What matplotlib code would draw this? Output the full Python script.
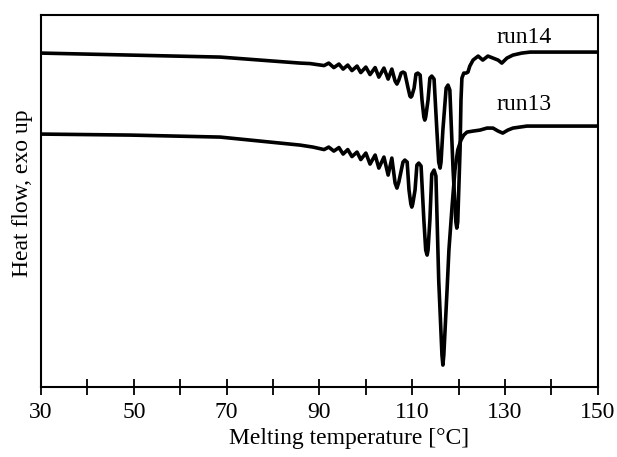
import matplotlib
matplotlib.use("Agg")
import matplotlib.pyplot as plt

# -------------------------------------------------------------
# Data (temperature in degC, heat flow in arbitrary units)
# -------------------------------------------------------------
temp_run14 = [30.0, 49.2, 68.6, 77.2, 85.8, 88.0, 91.0, 92.0, 93.1, 94.2, 95.1,
              96.1, 97.0, 98.1, 98.9, 100.0, 100.9, 102.0, 102.8, 103.9, 104.8,
              105.6, 106.3, 106.7, 107.1, 107.6, 108.0, 108.4, 109.1, 109.5,
              109.7, 109.9, 110.4, 110.8, 111.2, 111.7, 112.1, 112.5, 112.7,
              112.9, 113.4, 113.8, 114.2, 114.7, 115.3, 115.7, 116.0, 116.2,
              116.6, 117.3, 117.7, 118.1, 118.8, 119.4, 119.6, 119.8, 120.3,
              120.5, 120.7, 121.1, 121.6, 122.0, 122.4, 123.1, 124.2, 125.2,
              126.3, 127.4, 128.5, 129.3, 130.4, 131.7, 133.6, 135.4, 150.0]
flow_run14 = [33.4, 33.2, 33.0, 32.7, 32.4, 32.35, 32.15, 32.4, 31.95, 32.3, 31.8,
              32.2, 31.65, 32.1, 31.45, 32.0, 31.25, 31.95, 31.0, 31.9, 30.8,
              31.8, 30.6, 30.3, 30.7, 31.4, 31.5, 31.4, 29.9, 29.1,
              29.0, 29.1, 29.9, 31.3, 31.4, 31.2, 28.7, 27.0, 26.7,
              27.0, 28.7, 30.9, 31.1, 30.8, 25.7, 22.5, 21.9, 22.5,
              25.7, 29.9, 30.2, 29.7, 21.7, 16.5, 15.9, 16.5, 23.7,
              28.7, 30.9, 31.4, 31.4, 31.5, 32.1, 32.7, 33.1, 32.7,
              33.1, 32.9, 32.7, 32.4, 32.9, 33.2, 33.4, 33.5, 33.5]

temp_run13 = [30.0, 49.2, 68.6, 77.2, 85.8, 88.6, 91.0, 92.0, 93.1, 94.2, 95.1,
              96.1, 97.0, 98.1, 98.9, 100.0, 100.9, 102.0, 102.8, 103.9, 104.8,
              105.6, 106.3, 106.7, 107.1, 108.0, 108.4, 108.9, 109.3, 109.7,
              109.9, 110.1, 110.6, 111.0, 111.4, 111.9, 112.5, 112.9, 113.2,
              113.4, 113.8, 114.2, 114.7, 115.1, 115.7, 116.4, 116.6, 116.8,
              117.5, 117.9, 118.6, 119.2, 119.8, 120.5, 121.1, 121.8, 123.1,
              124.6, 126.1, 127.4, 128.5, 129.5, 130.6, 131.7, 133.2, 134.7, 150.0]
flow_run13 = [25.3, 25.2, 25.0, 24.6, 24.2, 24.0, 23.75, 24.0, 23.6, 23.95, 23.3,
              23.75, 23.05, 23.5, 22.75, 23.4, 22.3, 23.2, 21.9, 23.0, 21.2,
              22.9, 20.4, 19.9, 20.5, 22.5, 22.7, 22.5, 19.7, 18.3,
              18.0, 18.3, 19.7, 22.2, 22.4, 22.1, 16.7, 13.7, 13.2,
              13.7, 16.7, 21.3, 21.7, 21.1, 10.7, 3.2, 2.2, 3.2,
              9.7, 13.7, 18.2, 21.7, 23.7, 24.7, 25.2, 25.5, 25.6,
              25.7, 25.9, 25.9, 25.6, 25.4, 25.7, 25.9, 26.0, 26.1, 26.1]

labels = ["run14", "run13"]

# -------------------------------------------------------------
# Plot
# -------------------------------------------------------------
plt.rcParams['font.family'] = ['Liberation Serif', 'DejaVu Serif']

fig = plt.figure(figsize=(6.17, 4.57), dpi=100)
ax = fig.add_axes([0.0665, 0.153, 0.9025, 0.814])

ax.plot(temp_run14, flow_run14, color='black', lw=2.6)
ax.plot(temp_run13, flow_run13, color='black', lw=2.6)

ax.text(128.2, 35.0, labels[0], fontsize=17, va='center', ha='left')
ax.text(128.2, 28.3, labels[1], fontsize=17, va='center', ha='left')

ax.set_xlim(30, 150)
ax.set_ylim(0, 37.2)
ax.set_xticks(range(30, 151, 20))
ax.set_xticks(range(40, 150, 20), minor=True)
ax.tick_params(axis='x', which='both', direction='inout', length=11,
               width=1.3, labelsize=17, pad=5)
ax.set_yticks([])

for s in ax.spines.values():
    s.set_linewidth(1.5)

ax.set_xlabel("Melting temperature [°C]", fontsize=17, labelpad=4, x=0.553)
ax.set_ylabel("Heat flow, exo up", fontsize=17, labelpad=6, y=0.52)

fig.savefig("out.png", dpi=100)
